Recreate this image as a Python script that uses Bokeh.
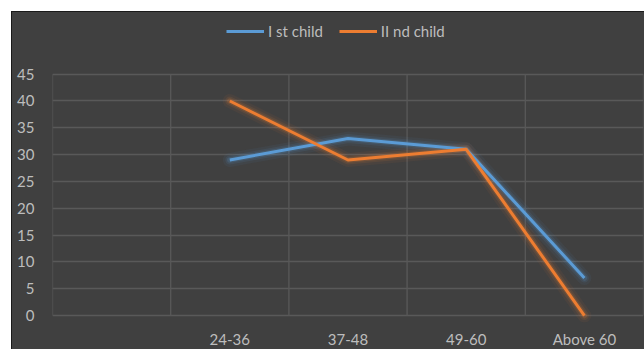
from bokeh.plotting import figure
from bokeh.models import Range1d, FixedTicker, Legend, LegendItem
from bokeh.embed import file_html
from bokeh.resources import INLINE

categories = ["", "24-36", "37-48", "49-60", "Above 60"]
first_child = [None, 29, 33, 31, 7]
second_child = [None, 40, 29, 31, 0]
y_ticks = [0, 5, 10, 15, 20, 25, 30, 35, 40, 45]

BG = "#404040"
GRID = "#595959"
TXT = "#bdbdbd"
BLUE = "#5b9bd5"
ORANGE = "#ed7d31"
FONT = "Lato"

xs = [i for i, c in enumerate(categories) if c]
b_vals = [v for v in first_child if v is not None]
o_vals = [v for v in second_child if v is not None]

p = figure(width=633, height=338, margin=(11, 0, 0, 11),
           output_backend="svg", toolbar_location=None,
           x_range=Range1d(-0.5, len(categories) - 0.5),
           y_range=Range1d(-1.3, 56.5),
           min_border_left=40, min_border_right=2,
           min_border_top=0, min_border_bottom=26)
p.background_fill_color = BG
p.border_fill_color = BG
p.outline_line_color = None
p.styles = {"border-top": "1px solid #1a1a1a", "border-left": "1px solid #1a1a1a",
            "background-color": BG}

# axes
p.xaxis.ticker = FixedTicker(ticks=list(range(len(categories))))
p.xaxis.major_label_overrides = {i: c for i, c in enumerate(categories)}
p.yaxis.ticker = FixedTicker(ticks=y_ticks)
for axs in (p.xaxis, p.yaxis):
    axs.axis_line_color = None
    axs.major_tick_line_color = None
    axs.minor_tick_line_color = None
    axs.major_label_text_color = TXT
    axs.major_label_text_font = FONT
    axs.major_label_text_font_size = "15px"
p.xaxis.major_label_standoff = 1
p.yaxis.major_label_standoff = 12

# grids
p.xgrid.visible = False
p.ygrid.ticker = FixedTicker(ticks=y_ticks)
p.ygrid.grid_line_color = GRID
p.ygrid.grid_line_width = 1.3
bounds = [i - 0.5 for i in range(len(categories) + 1)]
p.segment(x0=bounds, x1=bounds, y0=[min(y_ticks)] * len(bounds), y1=[max(y_ticks)] * len(bounds),
          line_color=GRID, line_width=1.3)

# glow
for col, vals in ((BLUE, b_vals), (ORANGE, o_vals)):
    p.line(xs, vals, line_color=col, line_width=14, line_alpha=0.06, line_join="round", line_cap="round")
    p.line(xs, vals, line_color=col, line_width=9, line_alpha=0.10, line_join="round", line_cap="round")
    p.line(xs, vals, line_color=col, line_width=5.5, line_alpha=0.18, line_join="round", line_cap="round")

r1 = p.line(xs, b_vals, line_color=BLUE, line_width=3, line_join="round")
r2 = p.line(xs, o_vals, line_color=ORANGE, line_width=3, line_join="round")

legend = Legend(items=[LegendItem(label="I st child", renderers=[r1]),
                       LegendItem(label="II nd child", renderers=[r2])],
                orientation="horizontal", location=(174, 282))
legend.background_fill_alpha = 0
legend.border_line_color = None
legend.label_text_color = TXT
legend.label_text_font = FONT
legend.label_text_font_size = "15px"
legend.glyph_width = 38
legend.glyph_height = 16
legend.label_height = 16
legend.label_standoff = 4
legend.spacing = 16
legend.padding = 0
legend.margin = 0
p.add_layout(legend)

open("out.html", "w").write(file_html(p, INLINE))
